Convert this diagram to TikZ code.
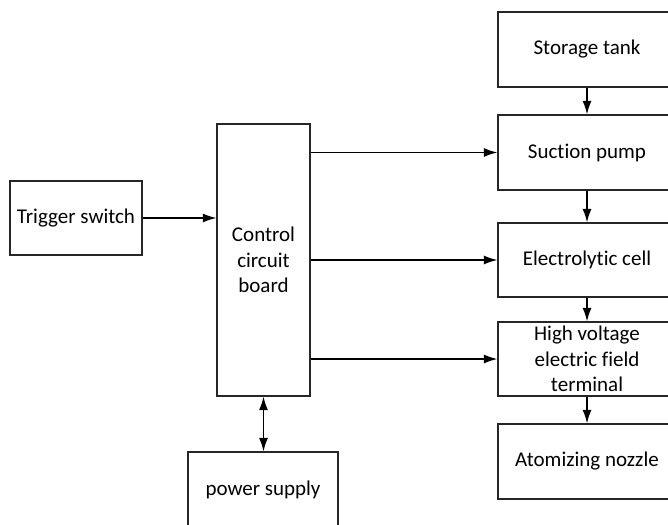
\documentclass[tikz,border=0pt]{standalone}
\usepackage{fontspec}
\setmainfont{Carlito}[Ligatures=CommonOff]
\usetikzlibrary{arrows.meta}
\begin{document}
\begin{tikzpicture}[x=1pt,y=-1pt,
  blk/.style={draw=black!85, line width=1.3pt, fill=white, align=center, inner sep=2pt,
    font=\fontsize{21}{25.3}\selectfont},
  conn/.style={line width=1.3pt, -{Latex[length=13.5pt,width=9pt]}},
  conn2/.style={line width=1.3pt, {Latex[length=13.5pt,width=9pt]}-{Latex[length=13.5pt,width=9pt]}}]
\useasboundingbox (0,0) rectangle (668,524);
\clip (0,0) rectangle (668,524);
\node[blk, minimum width=132pt, minimum height=74pt] (trig) at (76,218) {Trigger switch};
\node[blk, minimum width=93pt, minimum height=272pt] (ctrl) at (263.5,260) {Control\\circuit\\board};
\node[blk, minimum width=178pt, minimum height=75pt] (tank) at (587,49.5) {Storage tank};
\node[blk, minimum width=178pt, minimum height=75pt] (pump) at (587,152.5) {Suction pump};
\node[blk, minimum width=178pt, minimum height=74pt] (cell) at (587,260) {Electrolytic cell};
\node[blk, minimum width=178pt, minimum height=74pt] (hv) at (587,359) {High voltage\\electric field\\terminal};
\node[blk, minimum width=178pt, minimum height=75pt] (noz) at (587,461.5) {Atomizing nozzle};
\node[blk, minimum width=150pt, minimum height=75pt] (pow) at (263,489.5) {power supply};
\draw[conn] (trig) -- (ctrl.west |- trig.east);
\draw[conn] (ctrl.east |- pump.west) -- (pump.west);
\draw[conn] (ctrl.east |- cell.west) -- (cell.west);
\draw[conn] (ctrl.east |- hv.west) -- (hv.west);
\draw[conn] (tank) -- (pump);
\draw[conn] (pump) -- (cell);
\draw[conn] (cell) -- (hv);
\draw[conn] (hv) -- (noz);
\draw[conn2] (ctrl.south) -- (pow.north -| ctrl.south);
\end{tikzpicture}
\end{document}
